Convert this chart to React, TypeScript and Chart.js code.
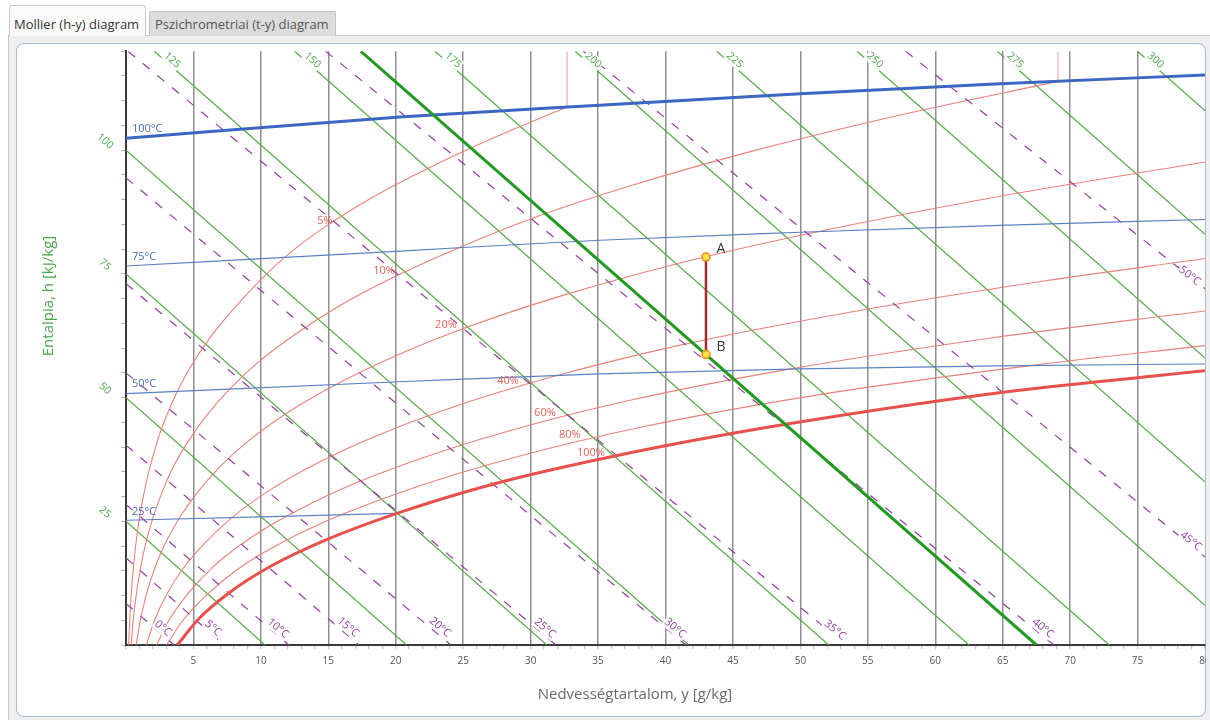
import React, { useEffect, useRef } from 'react';
import { Chart, registerables } from 'chart.js';

Chart.register(...registerables);

type P = [number, number];

// ---- axes ----
const xMin = 0;
const xMax = 80;
const vMin = 0;
const vMax = 120;
const xTickLabels = [5, 10, 15, 20, 25, 30, 35, 40, 45, 50, 55, 60, 65, 70, 75, 80];
const yTickLabels = [25, 50, 75, 100];

// ---- enthalpy lines (h = const), endpoints [y g/kg, skewed h] ----
const enthalpyLevels = [25, 50, 75, 100, 125, 150, 175, 200, 225, 250, 275, 300];
const enthalpyStart: P[] = [[0, 25], [0, 50], [0, 75], [0, 100], [2.1, 120], [12.5, 120], [22.9, 120], [33.3, 120], [43.8, 120], [54.2, 120], [64.6, 120], [75, 120]];
const enthalpyEnd: P[] = [[10.3, 0], [20.8, 0], [31.2, 0], [41.7, 0], [52.1, 0], [62.5, 0], [72.9, 0], [80, 8], [80, 33], [80, 58], [80, 83], [80, 108]];
const processEnthalpy: P[] = [[17.4, 120], [67.5, 0]];

// ---- wet-bulb temperature lines (dashed) ----
const wetBulbTemps = [0, 5, 10, 15, 20, 25, 30, 35, 40, 45, 50];
const wetBulbStart: P[] = [[0, 8.4], [0, 17.6], [0, 28.4], [0, 40.4], [0, 55], [0, 73], [0, 94.4], [0.15, 120], [14.8, 120], [33.9, 120], [57.8, 120]];
const wetBulbEnd: P[] = [[3.56, 0], [7.26, 0], [12.08, 0], [17.27, 0], [24.09, 0], [31.88, 0], [41.51, 0], [53.37, 0], [68.79, 0], [80, 17.8], [80, 72]];
const wetBulbLabelPos: P[] = [[2.74, 3.4], [6.45, 3.4], [11.27, 3.4], [16.46, 3.6], [23.28, 3.6], [31.06, 3.4], [40.7, 3.4], [52.56, 3.0], [67.98, 3.4], [78.95, 21], [78.87, 74.6]];

// ---- relative humidity curves ----
const rhLevels = ['5%', '10%', '20%', '40%', '60%', '80%', '100%'];
const rh5: P[] = [[0.19, 0], [0.38, 10.1], [0.72, 20.2], [1.31, 30.4], [2.28, 40.8], [2.96, 46.0], [3.81, 51.3], [4.88, 56.6], [6.18, 61.9], [7.78, 67.3], [9.8, 73.3], [12.0, 78.9], [14.7, 84.4], [18.1, 90.2], [22.3, 96.2], [27.1, 102.3], [32.7, 108.7]];
const rh10: P[] = [[0.38, 0], [0.54, 5.1], [0.76, 10.1], [1.05, 15.2], [1.44, 20.3], [1.95, 25.3], [2.62, 30.5], [3.47, 35.8], [4.57, 41.0], [5.95, 46.3], [7.68, 51.7], [9.83, 57.2], [12.5, 62.7], [15.75, 68.4], [19.75, 74.2], [24.6, 80.2], [30.5, 86.6], [37.65, 93.0], [46.3, 99.7], [56.6, 106.6], [69.1, 113.9]];
const rh20: P[] = [[0.75, 0], [1.07, 5.1], [1.51, 10.2], [2.1, 15.3], [2.89, 20.4], [3.92, 25.5], [5.26, 30.7], [6.99, 36.1], [9.2, 41.5], [12.0, 47.0], [15.54, 52.6], [19.97, 58.4], [25.48, 64.4], [32.33, 70.6], [40.8, 77.0], [51.27, 83.5], [64.19, 90.4], [80, 97.6]];
const rh40: P[] = [[1.5, 0], [2.15, 5.2], [3.03, 10.3], [4.22, 15.4], [5.8, 20.5], [7.88, 25.8], [10.6, 31.2], [14.13, 36.7], [18.68, 42.4], [24.48, 48.3], [31.88, 54.4], [41.27, 60.7], [53.15, 67.0], [68.19, 73.6], [80, 78.1]];
const rh60: P[] = [[2.26, 0], [3.23, 5.2], [4.56, 10.3], [6.34, 15.5], [8.73, 20.7], [11.89, 26.0], [16.04, 31.6], [21.44, 37.3], [28.44, 43.3], [37.46, 49.5], [49.08, 55.7], [64.02, 62.0], [80, 67.5]];
const rh80: P[] = [[3.0, 0], [4.31, 5.3], [6.09, 10.4], [8.49, 15.7], [11.7, 20.9], [15.96, 26.3], [21.58, 32.0], [28.92, 38.0], [38.51, 44.2], [50.97, 50.4], [67.2, 56.5], [80, 60.5]];
const rh100: P[] = [[3.8, 0], [5.4, 5.3], [7.63, 10.5], [10.65, 15.8], [14.7, 21.1], [20.08, 26.6], [27.2, 32.5], [36.6, 38.4], [48.9, 44.6], [65.05, 51.1], [80, 55.4]];
const rh5Boiling: P[] = [[32.7, 108.7], [32.7, 120]];
const rh10Boiling: P[] = [[69.1, 113.9], [69.1, 120]];
const rhLabelPos: P[] = [[14.75, 85.8], [19.13, 75.6], [23.72, 64.6], [28.32, 53.4], [31.06, 47.0], [32.91, 42.4], [34.47, 38.8]];

// ---- isotherms ----
const isoTemps = ['100°C', '75°C', '50°C', '25°C'];
const iso100: P[] = [[0, 102.4], [20.3, 106.7], [35.1, 109.1], [50, 111.4], [64.8, 113.4], [80, 115.2]];
const iso75: P[] = [[0, 76.6], [20.3, 79.6], [35.1, 81.8], [50, 83.4], [64.8, 84.8], [80, 86.0]];
const iso50: P[] = [[0, 50.8], [20.3, 53.2], [35.1, 54.8], [50, 55.8], [64.8, 56.4], [80, 56.8]];
const iso25: P[] = [[0, 25.2], [20.08, 26.6]];
const isoLabelPos: P[] = [[0.44, 104.4], [0.44, 78.4], [0.44, 52.8], [0.44, 27.0]];

// ---- process A -> B ----
const processNames = ['A', 'B'];
const processY = [43.0, 43.0];
const processH = [78.4, 58.7];

const FONT = "'Open Sans', 'DejaVu Sans', sans-serif";
const GREEN_TXT = '#4aa64a';
const RED_TXT = '#e0625c';
const BLUE_TXT = '#4a6aae';
const PURPLE = '#933f9e';

function drawText(ctx: CanvasRenderingContext2D, text: string, x: number, y: number, angle: number, color: string, font: string, bg: boolean, align: CanvasTextAlign = 'center') {
  ctx.save();
  ctx.translate(x, y);
  ctx.rotate(angle);
  ctx.font = font;
  ctx.textAlign = align;
  ctx.textBaseline = 'middle';
  if (bg) {
    const w = ctx.measureText(text).width;
    ctx.fillStyle = '#ffffff';
    const left = align === 'center' ? -w / 2 : align === 'right' ? -w : 0;
    ctx.fillRect(left - 1, -6, w + 2, 12);
  }
  ctx.fillStyle = color;
  ctx.fillText(text, 0, 0);
  ctx.restore();
}

const overlayPlugin = {
  id: 'overlayLabels',
  afterDatasetsDraw(chart: any) {
    const ctx: CanvasRenderingContext2D = chart.ctx;
    const xs = chart.scales.x;
    const ys = chart.scales.y;
    const px = (v: number) => xs.getPixelForValue(v);
    const py = (v: number) => ys.getPixelForValue(v);
    const ang = (a: P, b: P) => Math.atan2(py(b[1]) - py(a[1]), px(b[0]) - px(a[0]));
    const hAng = ang(enthalpyStart[0], enthalpyEnd[0]);
    const small = `10px ${FONT}`;

    // rotated enthalpy tick labels on the left axis
    yTickLabels.forEach((v) => drawText(ctx, String(v), xs.left - 21, py(v) - 9, hAng, GREEN_TXT, `10.5px ${FONT}`, false));

    // enthalpy labels along the top edge
    enthalpyLevels.forEach((h, i) => {
      const s = enthalpyStart[i];
      if (s[1] >= vMax) drawText(ctx, String(h), px(s[0]) + 18, py(s[1]) + 9, ang(s, enthalpyEnd[i]), GREEN_TXT, `10.5px ${FONT}`, true);
    });

    // wet-bulb labels
    wetBulbTemps.forEach((t, i) => {
      const p = wetBulbLabelPos[i];
      drawText(ctx, `${t}°C`, px(p[0]), py(p[1]), ang(wetBulbStart[i], wetBulbEnd[i]), PURPLE, `11px ${FONT}`, true);
    });

    // RH labels
    rhLevels.forEach((l, i) => {
      const p = rhLabelPos[i];
      drawText(ctx, l, px(p[0]), py(p[1]), 0, RED_TXT, `11px ${FONT}`, false);
    });

    // isotherm labels
    isoTemps.forEach((l, i) => {
      const p = isoLabelPos[i];
      drawText(ctx, l, px(p[0]), py(p[1]), 0, BLUE_TXT, `11px ${FONT}`, false, 'left');
    });

    // process point names
    processNames.forEach((n, i) => {
      drawText(ctx, n, px(processY[i]) + 15, py(processH[i]) - 8, 0, '#333333', `14px ${FONT}`, false);
    });

    // axis titles
    drawText(ctx, 'Nedvességtartalom, y [g/kg]', 618, 651, 0, '#6a6a6a', `15px ${FONT}`, false);
    drawText(ctx, 'Entalpia, h [kJ/kg]', 32, 252, -Math.PI / 2, GREEN_TXT, `15px ${FONT}`, false);
  },
};

export default function App() {
  const canvasRef = useRef<HTMLCanvasElement | null>(null);

  useEffect(() => {
    const canvas = canvasRef.current;
    if (!canvas) return;
    const mk = (data: P[], color: string, width: number, order: number, extra: any = {}) => ({
      data: data.map(([x, y]) => ({ x, y })),
      showLine: true,
      borderColor: color,
      backgroundColor: color,
      borderWidth: width,
      pointRadius: 0,
      pointHoverRadius: 0,
      fill: false,
      order,
      ...extra,
    });
    const smooth = { cubicInterpolationMode: 'monotone' };
    const datasets: any[] = [];

    // thin enthalpy lines
    enthalpyLevels.forEach((_, i) => datasets.push(mk([enthalpyStart[i], enthalpyEnd[i]], '#56aa48', 1.2, 7)));
    // RH curves
    const rhSets = [rh5, rh10, rh20, rh40, rh60, rh80];
    rhSets.forEach((d) => datasets.push(mk(d, '#e9817a', 1.1, 6, smooth)));
    datasets.push(mk(rh5Boiling, '#eca7a2', 1.1, 6));
    datasets.push(mk(rh10Boiling, '#eca7a2', 1.1, 6));
    // thin isotherms
    [iso75, iso50, iso25].forEach((d) => datasets.push(mk(d, '#5a80c4', 1.1, 5, smooth)));
    // wet-bulb dashed lines
    wetBulbTemps.forEach((_, i) => datasets.push(mk([wetBulbStart[i], wetBulbEnd[i]], PURPLE, 1.2, 4, { borderDash: [9, 10] })));
    // thick lines
    datasets.push(mk(rh100, '#e8504b', 3, 3, smooth));
    datasets.push(mk(iso100, '#3b66c2', 3, 2, smooth));
    datasets.push(mk(processEnthalpy, '#1f9a1f', 3, 1));
    // process A-B
    datasets.push({
      data: processY.map((x, i) => ({ x, y: processH[i] })),
      showLine: true,
      borderColor: '#a82a2a',
      borderWidth: 2.5,
      pointRadius: 4,
      pointHoverRadius: 4,
      pointBackgroundColor: '#ffe24a',
      pointBorderColor: '#f08a10',
      pointBorderWidth: 1.5,
      order: 0,
    });

    const chart = new Chart(canvas, {
      type: 'scatter',
      data: { datasets },
      plugins: [overlayPlugin],
      options: {
        animation: false,
        responsive: false,
        devicePixelRatio: 1,
        events: [],
        layout: { padding: { top: 0, right: 21, bottom: 0, left: 0 } },
        plugins: { legend: { display: false }, tooltip: { enabled: false }, title: { display: false } },
        scales: {
          x: {
            type: 'linear',
            min: xMin,
            max: xMax,
            afterFit: (s: any) => { s.height = 72; },
            border: { display: true, color: '#3a3a3a', width: 2 },
            grid: {
              color: (c: any) => (c.tick && c.tick.value % 5 === 0 && c.tick.value > xMin && c.tick.value < xMax ? '#8f8f8f' : 'rgba(0,0,0,0)'),
              lineWidth: 1.5,
              drawTicks: true,
              tickLength: 4,
              tickColor: '#b4b4b4',
              tickWidth: 1,
            },
            ticks: {
              stepSize: 1,
              autoSkip: false,
              maxRotation: 0,
              minRotation: 0,
              padding: 6,
              color: '#555555',
              font: { family: FONT, size: 10 },
              callback: (v: any) => (xTickLabels.includes(Number(v)) ? String(v) : ''),
            },
          },
          y: {
            type: 'linear',
            min: vMin,
            max: vMax,
            afterFit: (s: any) => { s.width = 109; },
            border: { display: true, color: '#3a3a3a', width: 2 },
            grid: { drawOnChartArea: false, drawTicks: true, tickLength: 5, tickColor: '#b4b4b4', tickWidth: 1 },
            ticks: { stepSize: 5, autoSkip: false, callback: () => '', padding: 0 },
          },
        },
      } as any,
    });
    return () => chart.destroy();
  }, []);

  return (
    <div style={{ position: 'fixed', left: 0, top: 0, width: 1210, height: 720, background: '#ffffff', overflow: 'hidden', fontFamily: FONT }}>
      <div style={{ position: 'absolute', left: 8, top: 35, width: 1202, height: 685, background: '#efefef', borderTop: '1px solid #c8c8c8', borderLeft: '1px solid #c8c8c8', boxSizing: 'border-box' }} />
      <div style={{ position: 'absolute', left: 149, top: 11, width: 187, height: 25, background: '#dcdcdc', border: '1px solid #c4c4c4', borderBottom: 'none', boxSizing: 'border-box', fontSize: 13, lineHeight: '18px', paddingTop: 3, paddingLeft: 5, color: '#555555', whiteSpace: 'nowrap', borderRadius: '2px 2px 0 0' }}>
        Pszichrometriai (t-y) diagram
      </div>
      <div style={{ position: 'absolute', left: 9, top: 5, width: 137, height: 31, background: '#fbfbfb', border: '1px solid #c8c8c8', borderBottom: 'none', boxSizing: 'border-box', fontSize: 13, lineHeight: '18px', paddingTop: 9, paddingLeft: 4, color: '#333333', whiteSpace: 'nowrap', borderRadius: '3px 3px 0 0' }}>
        Mollier (h-y) diagram
      </div>
      <div style={{ position: 'absolute', left: 16, top: 43, width: 1190, height: 674, background: '#ffffff', border: '1px solid #a9bacd', borderRadius: 8, boxSizing: 'border-box' }} />
      <div style={{ position: 'absolute', left: 17, top: 44, width: 1189, height: 673, overflow: 'hidden' }}>
        <canvas ref={canvasRef} width={1209} height={673} style={{ position: 'absolute', left: 0, top: 0, width: 1209, height: 673 }} />
      </div>
    </div>
  );
}
